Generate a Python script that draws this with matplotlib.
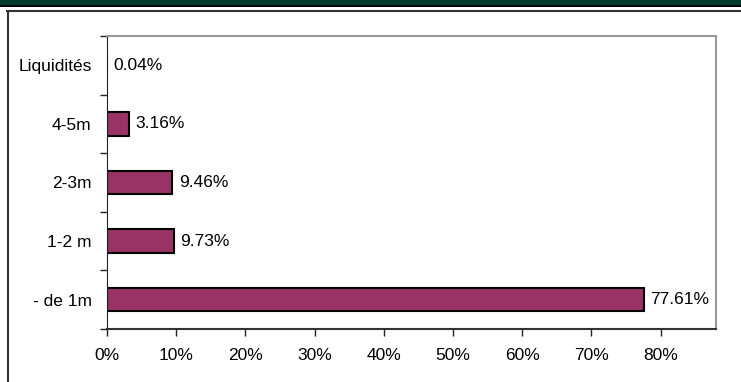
import matplotlib.pyplot as plt
from matplotlib.lines import Line2D
from matplotlib.patches import Rectangle
import numpy as np

plt.rcParams['font.family'] = ['Liberation Sans', 'DejaVu Sans']

# data (bottom to top)
categories = ['- de 1m', '1-2 m', '2-3m', '4-5m', 'Liquidités']
values = [77.61, 9.73, 9.46, 3.16, 0.04]
xticks = [0, 10, 20, 30, 40, 50, 60, 70, 80]

fig = plt.figure(figsize=(7.41, 3.82), dpi=100)

# dark green band + black rule at top
fig.patches.append(Rectangle((0, 1 - 4.5 / 382), 1, 4.5 / 382, transform=fig.transFigure,
                             facecolor='#003a2a', edgecolor='none'))
fig.patches.append(Rectangle((0, 1 - 6.5 / 382), 1, 2 / 382, transform=fig.transFigure,
                             facecolor='black', edgecolor='none'))
# chart frame lines (top and left)
fig.lines.append(Line2D([7 / 741, 1], [1 - 10.5 / 382, 1 - 10.5 / 382], transform=fig.transFigure,
                        color='#333333', lw=1.5))
fig.lines.append(Line2D([7.5 / 741, 7.5 / 741], [1 - 10.5 / 382, 0], transform=fig.transFigure,
                        color='#333333', lw=1.5))

ax = fig.add_axes([107 / 741, 1 - 329 / 382, (716 - 107) / 741, (329 - 36) / 382])
y = np.arange(len(categories))
ax.barh(y, values, height=0.4, color='#993366', edgecolor='black', linewidth=1.5)

fs = 12.5
for yi, v in zip(y, values):
    ax.text(v + 0.9, yi, f'{v:.2f}%', va='center', ha='left', fontsize=fs)

ax.set_xlim(0, 88)
ax.set_ylim(-0.5, len(categories) - 0.5)
ax.set_xticks(xticks)
ax.set_xticklabels([f'{t}%' for t in xticks], fontsize=fs)
ax.set_yticks(y)
ax.set_yticklabels(categories, fontsize=fs)
ax.set_yticks(np.arange(-0.5, len(categories)), minor=True)
ax.tick_params(axis='y', which='major', length=0, pad=11)
ax.tick_params(axis='y', which='minor', length=5, width=1, direction='out', color='#222222')
ax.tick_params(axis='x', length=5, width=1, direction='out', pad=9, color='#222222')

ax.spines['left'].set_color('#222222')
ax.spines['bottom'].set_color('#333333')
ax.spines['bottom'].set_linewidth(1.5)
ax.spines['top'].set_color('#999999')
ax.spines['right'].set_color('#999999')
ax.spines['top'].set_linewidth(1.5)
ax.spines['right'].set_linewidth(1.5)

fig.savefig('out.png', dpi=100)
